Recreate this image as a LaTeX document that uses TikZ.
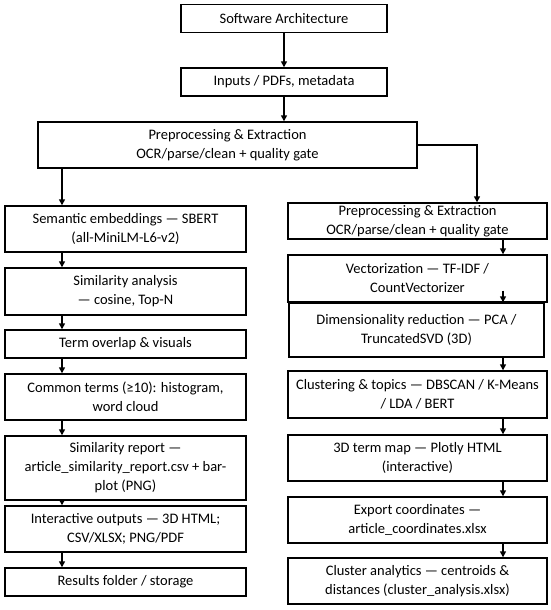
\documentclass[tikz,border=0pt]{standalone}
\usepackage{fontspec}
\setmainfont{Carlito}
\usetikzlibrary{arrows.meta,positioning}
\tikzset{
  box/.style={rectangle,draw=black,line width=1.4pt,fill=white,text=black,
              minimum width=#1,minimum height=28pt,inner sep=1pt,
              font=\fontsize{14.5}{19}\selectfont,align=center},
  box/.default=206pt,
  arr/.style={-{Triangle[length=6pt,width=6pt]},line width=1.4pt},
}

\begin{document}
\begin{tikzpicture}[x=1pt,y=-1pt]
    \useasboundingbox (0,0) rectangle (550,610);
    % top of the flow
    \node[box] (arch) at (284,18.5) {Software Architecture};
    \node[box] (inp) at (284,82) {Inputs / PDFs, metadata};
    \node[box=379pt,minimum height=46pt] (pre) at (227.5,145)
      {Preprocessing \& Extraction\\OCR/parse/clean + quality gate};
    \coordinate (lx) at (62,0);
    \coordinate (bx) at (477,0);
    \coordinate (rx) at (503,0);
    % left column
    \node[box=241pt,minimum height=46pt] (sem) at (125.5,229)
      {Semantic embeddings — SBERT\\(all-MiniLM-L6-v2)};
    \node[box=241pt,minimum height=47pt] (sim) at (125.5,291.5)
      {Similarity analysis\\— cosine, Top-N};
    \node[box=241pt] (term) at (125.5,344) {Term overlap \& visuals};
    \node[box=241pt,minimum height=46pt] (common) at (125.5,397)
      {Common terms (≥10): histogram,\\word cloud};
    \node[box=241pt,minimum height=64pt] (rep) at (125.5,468)
      {Similarity report —\\article\_similarity\_report.csv + bar-\\plot (PNG)};
    \node[box=241pt,minimum height=46pt] (out) at (125.5,529)
      {Interactive outputs — 3D HTML;\\CSV/XLSX; PNG/PDF};
    \node[box=241pt] (res) at (125.5,582) {Results folder / storage};
    % right column
    \node[box=259pt,minimum height=36pt] (pre2) at (417.5,221)
      {Preprocessing \& Extraction\\OCR/parse/clean + quality gate};
    \node[box=259pt,minimum height=47pt] (vec) at (417.5,278.5)
      {Vectorization — TF-IDF /\\CountVectorizer};
    \node[box=255pt,minimum height=54pt] (dim) at (416.5,330)
      {Dimensionality reduction — PCA /\\TruncatedSVD (3D)};
    \node[box=259pt,minimum height=47pt] (clu) at (417.5,394.5)
      {Clustering \& topics — DBSCAN / K-Means\\/ LDA / BERT};
    \node[box=259pt,minimum height=46pt] (map) at (417.5,458)
      {3D term map — Plotly HTML\\(interactive)};
    \node[box=259pt,minimum height=46pt] (exp) at (417.5,520)
      {Export coordinates —\\article\_coordinates.xlsx};
    \node[box=259pt,minimum height=46pt] (ana) at (417.5,581)
      {Cluster analytics — centroids \&\\distances (cluster\_analysis.xlsx)};
    % connectors
    \draw[arr] (arch) -- (inp);
    \draw[arr] (inp) -- (inp |- pre.north);
    \draw[arr] (pre.south -| lx) -- (sem.north -| lx);
    \draw[arr] (pre.east) -| (pre2.north -| bx);
    \foreach \a/\b in {sem/sim,sim/term,term/common,common/rep,rep/out,out/res}
      \draw[arr] (\a.south -| lx) -- (\b.north -| lx);
    \foreach \a/\b in {pre2/vec,dim/clu,clu/map,map/exp,exp/ana}
      \draw[arr] (\a.south -| rx) -- (\b.north -| rx);
    \draw[arr] ([yshift=12pt]vec.south -| rx) -- (dim.north -| rx);
\end{tikzpicture}
\end{document}
